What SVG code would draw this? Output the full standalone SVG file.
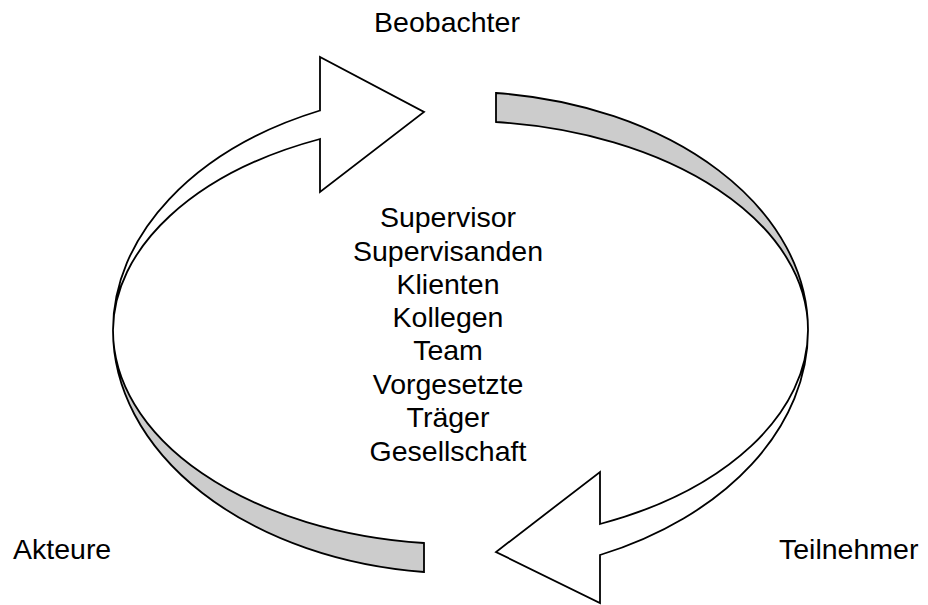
<svg xmlns="http://www.w3.org/2000/svg" width="928" height="605" viewBox="0 0 928 605">
<style>
.w{fill:#ffffff;stroke:#000000;stroke-width:1.8;stroke-linejoin:miter}
.g{fill:#cccccc;stroke:#000000;stroke-width:1.8;stroke-linejoin:miter}
text{font-family:"Liberation Sans",Arial,sans-serif;font-size:28.5px;fill:#000000}
.c{text-anchor:middle}
</style>
<rect width="928" height="605" fill="#ffffff"/>
<g id="connectors">
<g id="arrow-top">
<path class="w" d="M 320,110.5 A 347.5 240 0 0 0 113,330 A 347.5 210 0 0 1 320,139 L 320,192 L 424,112 L 320,57 Z"/>
</g>
<g id="ribbon-top-right">
<path class="g" d="M 496,93 A 347.5 238 0 0 1 808,330 A 347.5 209 0 0 0 496,122 Z"/>
</g>
<g id="arrow-bottom">
<path class="w" d="M 808,330 A 347.5 212 0 0 1 600,524 L 600,472 L 496,552 L 600,603 L 600,555 A 347.5 245 0 0 0 808,330 Z"/>
</g>
<g id="ribbon-bottom-left">
<path class="g" d="M 113,330 A 347.5 214 0 0 0 424,543 L 424,572 A 347.5 243 0 0 1 113,330 Z"/>
</g>
</g>
<g id="beobachter"><text class="c" x="447" y="32">Beobachter</text></g>
<g id="akteure"><text x="13" y="559">Akteure</text></g>
<g id="teilnehmer"><text x="779" y="559">Teilnehmer</text></g>
<g id="center-list">
<text class="c" x="448" y="227">Supervisor</text>
<text class="c" x="448" y="261">Supervisanden</text>
<text class="c" x="448" y="294">Klienten</text>
<text class="c" x="448" y="327">Kollegen</text>
<text class="c" x="448" y="360">Team</text>
<text class="c" x="448" y="394">Vorgesetzte</text>
<text class="c" x="448" y="427">Träger</text>
<text class="c" x="448" y="461">Gesellschaft</text>
</g>
</svg>
